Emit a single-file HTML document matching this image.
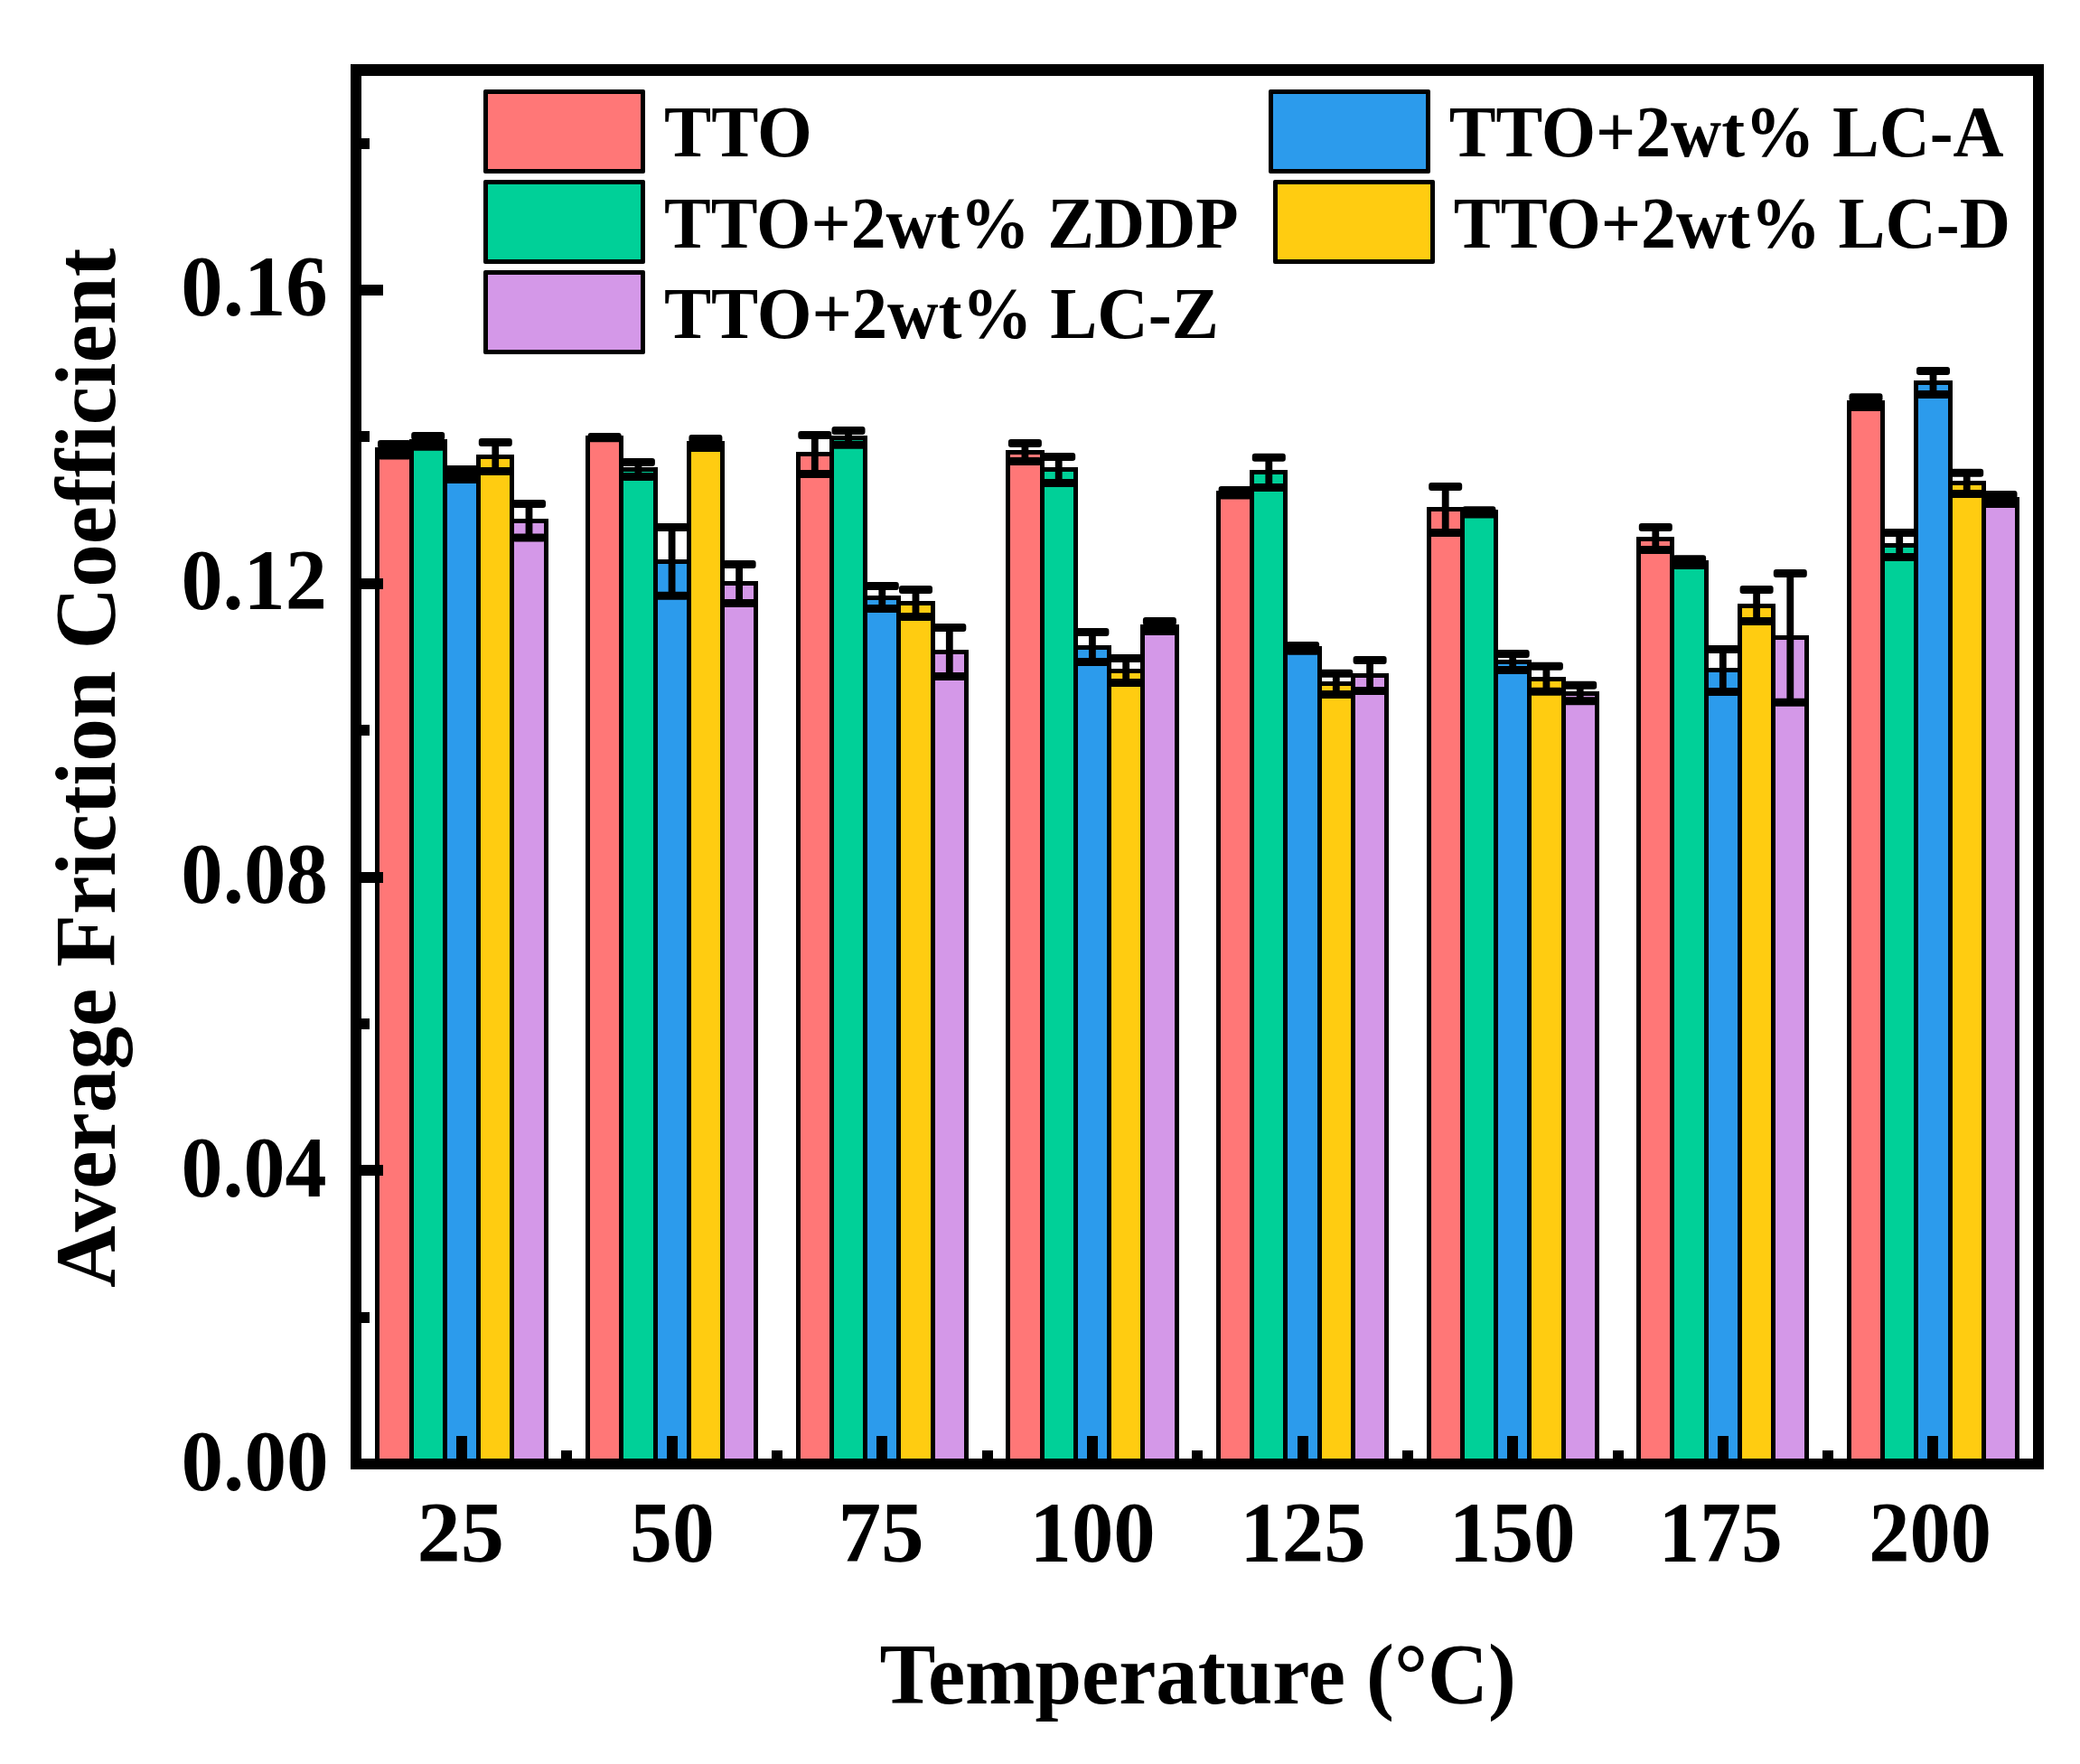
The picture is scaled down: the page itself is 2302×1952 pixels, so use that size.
<!DOCTYPE html>
<html><head><meta charset="utf-8"><title>Average Friction Coefficient vs Temperature</title>
<style>html,body{margin:0;padding:0;background:#fff}svg{display:block}</style></head>
<body><svg width="2302" height="1952" viewBox="0 0 2302 1952">
<rect x="0" y="0" width="2302" height="1952" fill="#fff"/>
<g font-family="Liberation Serif, 'Times New Roman', serif" font-weight="bold" fill="#000">
<rect x="415" y="495" width="43" height="1125" fill="#000"/>
<rect x="420" y="500" width="33" height="1120" fill="#FF7777"/>
<rect x="453" y="486" width="42" height="1134" fill="#000"/>
<rect x="458" y="491" width="32" height="1129" fill="#00D098"/>
<rect x="490" y="523" width="42" height="1097" fill="#000"/>
<rect x="495" y="528" width="32" height="1092" fill="#2C9BEC"/>
<rect x="527" y="503" width="42" height="1117" fill="#000"/>
<rect x="532" y="508" width="32" height="1112" fill="#FFCC11"/>
<rect x="564" y="574" width="43" height="1046" fill="#000"/>
<rect x="569" y="579" width="33" height="1041" fill="#D498E8"/>
<rect x="648" y="482" width="42" height="1138" fill="#000"/>
<rect x="653" y="487" width="32" height="1133" fill="#FF7777"/>
<rect x="685" y="517" width="43" height="1103" fill="#000"/>
<rect x="690" y="522" width="33" height="1098" fill="#00D098"/>
<rect x="723" y="619" width="42" height="1001" fill="#000"/>
<rect x="728" y="624" width="32" height="996" fill="#2C9BEC"/>
<rect x="760" y="488" width="42" height="1132" fill="#000"/>
<rect x="765" y="493" width="32" height="1127" fill="#FFCC11"/>
<rect x="797" y="643" width="42" height="977" fill="#000"/>
<rect x="802" y="648" width="32" height="972" fill="#D498E8"/>
<rect x="881" y="500" width="42" height="1120" fill="#000"/>
<rect x="886" y="505" width="32" height="1115" fill="#FF7777"/>
<rect x="918" y="482" width="42" height="1138" fill="#000"/>
<rect x="923" y="487" width="32" height="1133" fill="#00D098"/>
<rect x="955" y="659" width="42" height="961" fill="#000"/>
<rect x="960" y="664" width="32" height="956" fill="#2C9BEC"/>
<rect x="992" y="665" width="43" height="955" fill="#000"/>
<rect x="997" y="670" width="33" height="950" fill="#FFCC11"/>
<rect x="1030" y="719" width="42" height="901" fill="#000"/>
<rect x="1035" y="724" width="32" height="896" fill="#D498E8"/>
<rect x="1113" y="498" width="43" height="1122" fill="#000"/>
<rect x="1118" y="503" width="33" height="1117" fill="#FF7777"/>
<rect x="1151" y="517" width="42" height="1103" fill="#000"/>
<rect x="1156" y="522" width="32" height="1098" fill="#00D098"/>
<rect x="1188" y="714" width="42" height="906" fill="#000"/>
<rect x="1193" y="719" width="32" height="901" fill="#2C9BEC"/>
<rect x="1225" y="740" width="42" height="880" fill="#000"/>
<rect x="1230" y="745" width="32" height="875" fill="#FFCC11"/>
<rect x="1262" y="691" width="43" height="929" fill="#000"/>
<rect x="1267" y="696" width="33" height="924" fill="#D498E8"/>
<rect x="1346" y="543" width="42" height="1077" fill="#000"/>
<rect x="1351" y="548" width="32" height="1072" fill="#FF7777"/>
<rect x="1383" y="520" width="42" height="1100" fill="#000"/>
<rect x="1388" y="525" width="32" height="1095" fill="#00D098"/>
<rect x="1420" y="715" width="43" height="905" fill="#000"/>
<rect x="1425" y="720" width="33" height="900" fill="#2C9BEC"/>
<rect x="1458" y="754" width="42" height="866" fill="#000"/>
<rect x="1463" y="759" width="32" height="861" fill="#FFCC11"/>
<rect x="1495" y="745" width="42" height="875" fill="#000"/>
<rect x="1500" y="750" width="32" height="870" fill="#D498E8"/>
<rect x="1579" y="561" width="42" height="1059" fill="#000"/>
<rect x="1584" y="566" width="32" height="1054" fill="#FF7777"/>
<rect x="1616" y="564" width="42" height="1056" fill="#000"/>
<rect x="1621" y="569" width="32" height="1051" fill="#00D098"/>
<rect x="1653" y="730" width="42" height="890" fill="#000"/>
<rect x="1658" y="735" width="32" height="885" fill="#2C9BEC"/>
<rect x="1690" y="749" width="43" height="871" fill="#000"/>
<rect x="1695" y="754" width="33" height="866" fill="#FFCC11"/>
<rect x="1728" y="765" width="42" height="855" fill="#000"/>
<rect x="1733" y="770" width="32" height="850" fill="#D498E8"/>
<rect x="1811" y="594" width="42" height="1026" fill="#000"/>
<rect x="1816" y="599" width="32" height="1021" fill="#FF7777"/>
<rect x="1848" y="620" width="43" height="1000" fill="#000"/>
<rect x="1853" y="625" width="33" height="995" fill="#00D098"/>
<rect x="1886" y="739" width="42" height="881" fill="#000"/>
<rect x="1891" y="744" width="32" height="876" fill="#2C9BEC"/>
<rect x="1923" y="668" width="42" height="952" fill="#000"/>
<rect x="1928" y="673" width="32" height="947" fill="#FFCC11"/>
<rect x="1960" y="703" width="42" height="917" fill="#000"/>
<rect x="1965" y="708" width="32" height="912" fill="#D498E8"/>
<rect x="2044" y="443" width="42" height="1177" fill="#000"/>
<rect x="2049" y="448" width="32" height="1172" fill="#FF7777"/>
<rect x="2081" y="601" width="42" height="1019" fill="#000"/>
<rect x="2086" y="606" width="32" height="1014" fill="#00D098"/>
<rect x="2118" y="421" width="43" height="1199" fill="#000"/>
<rect x="2123" y="426" width="33" height="1194" fill="#2C9BEC"/>
<rect x="2156" y="532" width="42" height="1088" fill="#000"/>
<rect x="2161" y="537" width="32" height="1083" fill="#FFCC11"/>
<rect x="2193" y="550" width="42" height="1070" fill="#000"/>
<rect x="2198" y="555" width="32" height="1065" fill="#D498E8"/>
<rect x="432.6" y="491.4" width="7.8" height="12.7" fill="#000"/>
<rect x="418" y="486.9" width="37" height="9" fill="#000" rx="3"/>
<rect x="418" y="499.6" width="37" height="9" fill="#000" rx="3"/>
<rect x="469.9" y="482.4" width="7.7" height="11.9" fill="#000"/>
<rect x="455.2" y="477.9" width="37" height="9" fill="#000" rx="3"/>
<rect x="455.2" y="489.8" width="37" height="9" fill="#000" rx="3"/>
<rect x="507.1" y="519.5" width="7.8" height="11" fill="#000"/>
<rect x="492.5" y="515" width="37" height="9" fill="#000" rx="3"/>
<rect x="492.5" y="526" width="37" height="9" fill="#000" rx="3"/>
<rect x="544.4" y="489.4" width="7.7" height="32.1" fill="#000"/>
<rect x="529.8" y="484.9" width="37" height="9" fill="#000" rx="3"/>
<rect x="529.8" y="517" width="37" height="9" fill="#000" rx="3"/>
<rect x="581.6" y="557.4" width="7.8" height="37.7" fill="#000"/>
<rect x="567" y="552.9" width="37" height="9" fill="#000" rx="3"/>
<rect x="567" y="590.6" width="37" height="9" fill="#000" rx="3"/>
<rect x="665.2" y="483.6" width="7.8" height="1.2" fill="#000"/>
<rect x="650.6" y="479.1" width="37" height="9" fill="#000" rx="3"/>
<rect x="650.6" y="480.3" width="37" height="9" fill="#000" rx="3"/>
<rect x="702.5" y="511.4" width="7.8" height="16" fill="#000"/>
<rect x="687.9" y="506.9" width="37" height="9" fill="#000" rx="3"/>
<rect x="687.9" y="522.9" width="37" height="9" fill="#000" rx="3"/>
<rect x="739.7" y="583.5" width="7.8" height="75.7" fill="#000"/>
<rect x="725.1" y="579" width="37" height="9" fill="#000" rx="3"/>
<rect x="725.1" y="654.7" width="37" height="9" fill="#000" rx="3"/>
<rect x="777" y="485.4" width="7.8" height="10" fill="#000"/>
<rect x="762.4" y="480.9" width="37" height="9" fill="#000" rx="3"/>
<rect x="762.4" y="490.9" width="37" height="9" fill="#000" rx="3"/>
<rect x="814.2" y="624.4" width="7.8" height="43.1" fill="#000"/>
<rect x="799.6" y="619.9" width="37" height="9" fill="#000" rx="3"/>
<rect x="799.6" y="663" width="37" height="9" fill="#000" rx="3"/>
<rect x="897.9" y="481.4" width="7.8" height="43" fill="#000"/>
<rect x="883.3" y="476.9" width="37" height="9" fill="#000" rx="3"/>
<rect x="883.3" y="519.9" width="37" height="9" fill="#000" rx="3"/>
<rect x="935.1" y="476.6" width="7.8" height="15.7" fill="#000"/>
<rect x="920.5" y="472.1" width="37" height="9" fill="#000" rx="3"/>
<rect x="920.5" y="487.8" width="37" height="9" fill="#000" rx="3"/>
<rect x="972.4" y="648.5" width="7.8" height="25.1" fill="#000"/>
<rect x="957.8" y="644" width="37" height="9" fill="#000" rx="3"/>
<rect x="957.8" y="669.1" width="37" height="9" fill="#000" rx="3"/>
<rect x="1009.6" y="652.4" width="7.8" height="30.2" fill="#000"/>
<rect x="995" y="647.9" width="37" height="9" fill="#000" rx="3"/>
<rect x="995" y="678.1" width="37" height="9" fill="#000" rx="3"/>
<rect x="1046.9" y="694.4" width="7.8" height="54.1" fill="#000"/>
<rect x="1032.3" y="689.9" width="37" height="9" fill="#000" rx="3"/>
<rect x="1032.3" y="744" width="37" height="9" fill="#000" rx="3"/>
<rect x="1130.5" y="490.4" width="7.8" height="20.1" fill="#000"/>
<rect x="1115.9" y="485.9" width="37" height="9" fill="#000" rx="3"/>
<rect x="1115.9" y="506" width="37" height="9" fill="#000" rx="3"/>
<rect x="1167.8" y="505.5" width="7.8" height="28.9" fill="#000"/>
<rect x="1153.2" y="501" width="37" height="9" fill="#000" rx="3"/>
<rect x="1153.2" y="529.9" width="37" height="9" fill="#000" rx="3"/>
<rect x="1205" y="699.4" width="7.8" height="33.2" fill="#000"/>
<rect x="1190.4" y="694.9" width="37" height="9" fill="#000" rx="3"/>
<rect x="1190.4" y="728.1" width="37" height="9" fill="#000" rx="3"/>
<rect x="1242.3" y="728.5" width="7.8" height="27" fill="#000"/>
<rect x="1227.7" y="724" width="37" height="9" fill="#000" rx="3"/>
<rect x="1227.7" y="751" width="37" height="9" fill="#000" rx="3"/>
<rect x="1279.5" y="687.5" width="7.8" height="11" fill="#000"/>
<rect x="1264.9" y="683" width="37" height="9" fill="#000" rx="3"/>
<rect x="1264.9" y="694" width="37" height="9" fill="#000" rx="3"/>
<rect x="1363.2" y="542.6" width="7.8" height="5.5" fill="#000"/>
<rect x="1348.6" y="538.1" width="37" height="9" fill="#000" rx="3"/>
<rect x="1348.6" y="543.6" width="37" height="9" fill="#000" rx="3"/>
<rect x="1400.4" y="506.3" width="7.8" height="33.3" fill="#000"/>
<rect x="1385.8" y="501.8" width="37" height="9" fill="#000" rx="3"/>
<rect x="1385.8" y="535.1" width="37" height="9" fill="#000" rx="3"/>
<rect x="1437.7" y="714.4" width="7.8" height="5.8" fill="#000"/>
<rect x="1423.1" y="709.9" width="37" height="9" fill="#000" rx="3"/>
<rect x="1423.1" y="715.7" width="37" height="9" fill="#000" rx="3"/>
<rect x="1474.9" y="745.3" width="7.8" height="23.3" fill="#000"/>
<rect x="1460.3" y="740.8" width="37" height="9" fill="#000" rx="3"/>
<rect x="1460.3" y="764.1" width="37" height="9" fill="#000" rx="3"/>
<rect x="1512.2" y="730.4" width="7.8" height="34" fill="#000"/>
<rect x="1497.6" y="725.9" width="37" height="9" fill="#000" rx="3"/>
<rect x="1497.6" y="759.9" width="37" height="9" fill="#000" rx="3"/>
<rect x="1595.8" y="538.4" width="7.8" height="51" fill="#000"/>
<rect x="1581.2" y="533.9" width="37" height="9" fill="#000" rx="3"/>
<rect x="1581.2" y="584.9" width="37" height="9" fill="#000" rx="3"/>
<rect x="1633" y="564.7" width="7.8" height="4.4" fill="#000"/>
<rect x="1618.4" y="560.2" width="37" height="9" fill="#000" rx="3"/>
<rect x="1618.4" y="564.6" width="37" height="9" fill="#000" rx="3"/>
<rect x="1670.3" y="723.5" width="7.8" height="18" fill="#000"/>
<rect x="1655.7" y="719" width="37" height="9" fill="#000" rx="3"/>
<rect x="1655.7" y="737" width="37" height="9" fill="#000" rx="3"/>
<rect x="1707.5" y="737.3" width="7.8" height="27.9" fill="#000"/>
<rect x="1692.9" y="732.8" width="37" height="9" fill="#000" rx="3"/>
<rect x="1692.9" y="760.7" width="37" height="9" fill="#000" rx="3"/>
<rect x="1744.8" y="758.3" width="7.8" height="17.5" fill="#000"/>
<rect x="1730.2" y="753.8" width="37" height="9" fill="#000" rx="3"/>
<rect x="1730.2" y="771.3" width="37" height="9" fill="#000" rx="3"/>
<rect x="1828.4" y="583.5" width="7.8" height="25.1" fill="#000"/>
<rect x="1813.8" y="579" width="37" height="9" fill="#000" rx="3"/>
<rect x="1813.8" y="604.1" width="37" height="9" fill="#000" rx="3"/>
<rect x="1865.7" y="618.8" width="7.8" height="6.7" fill="#000"/>
<rect x="1851.1" y="614.3" width="37" height="9" fill="#000" rx="3"/>
<rect x="1851.1" y="621" width="37" height="9" fill="#000" rx="3"/>
<rect x="1902.9" y="718.4" width="7.8" height="47" fill="#000"/>
<rect x="1888.3" y="713.9" width="37" height="9" fill="#000" rx="3"/>
<rect x="1888.3" y="760.9" width="37" height="9" fill="#000" rx="3"/>
<rect x="1940.2" y="652.5" width="7.8" height="35" fill="#000"/>
<rect x="1925.6" y="648" width="37" height="9" fill="#000" rx="3"/>
<rect x="1925.6" y="683" width="37" height="9" fill="#000" rx="3"/>
<rect x="1977.4" y="634.5" width="7.8" height="142.8" fill="#000"/>
<rect x="1962.8" y="630" width="37" height="9" fill="#000" rx="3"/>
<rect x="1962.8" y="772.8" width="37" height="9" fill="#000" rx="3"/>
<rect x="2061.1" y="439.7" width="7.8" height="10.8" fill="#000"/>
<rect x="2046.5" y="435.2" width="37" height="9" fill="#000" rx="3"/>
<rect x="2046.5" y="446" width="37" height="9" fill="#000" rx="3"/>
<rect x="2098.3" y="589.5" width="7.8" height="27" fill="#000"/>
<rect x="2083.7" y="585" width="37" height="9" fill="#000" rx="3"/>
<rect x="2083.7" y="612" width="37" height="9" fill="#000" rx="3"/>
<rect x="2135.6" y="410.4" width="7.8" height="26" fill="#000"/>
<rect x="2121" y="405.9" width="37" height="9" fill="#000" rx="3"/>
<rect x="2121" y="431.9" width="37" height="9" fill="#000" rx="3"/>
<rect x="2172.8" y="523.3" width="7.8" height="23.1" fill="#000"/>
<rect x="2158.2" y="518.8" width="37" height="9" fill="#000" rx="3"/>
<rect x="2158.2" y="541.9" width="37" height="9" fill="#000" rx="3"/>
<rect x="2210.1" y="547.5" width="7.8" height="9.9" fill="#000"/>
<rect x="2195.5" y="543" width="37" height="9" fill="#000" rx="3"/>
<rect x="2195.5" y="552.9" width="37" height="9" fill="#000" rx="3"/>
<rect x="388" y="71" width="1874" height="13" fill="#000"/>
<rect x="388" y="1614" width="1874" height="12" fill="#000"/>
<rect x="388" y="71" width="12" height="1555" fill="#000"/>
<rect x="2250" y="71" width="12" height="1555" fill="#000"/>
<rect x="400" y="1452" width="9" height="12" fill="#000"/>
<rect x="400" y="1289" width="24" height="12" fill="#000"/>
<rect x="400" y="1127" width="9" height="12" fill="#000"/>
<rect x="400" y="965" width="24" height="12" fill="#000"/>
<rect x="400" y="802" width="9" height="12" fill="#000"/>
<rect x="400" y="640" width="24" height="12" fill="#000"/>
<rect x="400" y="477" width="9" height="12" fill="#000"/>
<rect x="400" y="315" width="24" height="12" fill="#000"/>
<rect x="400" y="153" width="9" height="12" fill="#000"/>
<rect x="505" y="1589" width="12" height="25" fill="#000"/>
<rect x="621" y="1605" width="12" height="9" fill="#000"/>
<rect x="738" y="1589" width="12" height="25" fill="#000"/>
<rect x="854" y="1605" width="12" height="9" fill="#000"/>
<rect x="970" y="1589" width="12" height="25" fill="#000"/>
<rect x="1087" y="1605" width="12" height="9" fill="#000"/>
<rect x="1203" y="1589" width="12" height="25" fill="#000"/>
<rect x="1319" y="1605" width="12" height="9" fill="#000"/>
<rect x="1436" y="1589" width="12" height="25" fill="#000"/>
<rect x="1552" y="1605" width="12" height="9" fill="#000"/>
<rect x="1668" y="1589" width="12" height="25" fill="#000"/>
<rect x="1785" y="1605" width="12" height="9" fill="#000"/>
<rect x="1901" y="1589" width="12" height="25" fill="#000"/>
<rect x="2017" y="1605" width="12" height="9" fill="#000"/>
<rect x="2133" y="1589" width="12" height="25" fill="#000"/>
<rect x="535" y="99" width="179" height="93" fill="#000" rx="2"/>
<rect x="540" y="104" width="169" height="83" fill="#FF7777"/>
<rect x="535" y="199" width="179" height="93" fill="#000" rx="2"/>
<rect x="540" y="204" width="169" height="83" fill="#00D098"/>
<rect x="535" y="299" width="179" height="93" fill="#000" rx="2"/>
<rect x="540" y="304" width="169" height="83" fill="#D498E8"/>
<rect x="1404" y="99" width="179" height="93" fill="#000" rx="2"/>
<rect x="1409" y="104" width="169" height="83" fill="#2C9BEC"/>
<rect x="1409" y="199" width="179" height="93" fill="#000" rx="2"/>
<rect x="1414" y="204" width="169" height="83" fill="#FFCC11"/>
<text x="734.99" y="172.7" font-size="80.5" textLength="163.80" lengthAdjust="spacingAndGlyphs">TTO</text>
<text x="734.99" y="273.8" font-size="80.5" textLength="635.60" lengthAdjust="spacingAndGlyphs">TTO+2wt% ZDDP</text>
<text x="734.98" y="373.8" font-size="80.5" textLength="613.88" lengthAdjust="spacingAndGlyphs">TTO+2wt% LC-Z</text>
<text x="1603.69" y="172.95" font-size="80.5" textLength="613.88" lengthAdjust="spacingAndGlyphs">TTO+2wt% LC-A</text>
<text x="1608.69" y="273.8" font-size="80.5" textLength="616.21" lengthAdjust="spacingAndGlyphs">TTO+2wt% LC-D</text>
<text x="200.45" y="1648.7" font-size="96" textLength="163.20" lengthAdjust="spacingAndGlyphs">0.00</text>
<text x="200.39" y="1323.9" font-size="96" textLength="161.11" lengthAdjust="spacingAndGlyphs">0.04</text>
<text x="200.36" y="999" font-size="96" textLength="162.52" lengthAdjust="spacingAndGlyphs">0.08</text>
<text x="200.39" y="674.2" font-size="96" textLength="161.48" lengthAdjust="spacingAndGlyphs">0.12</text>
<text x="200.26" y="349.4" font-size="96" textLength="162.56" lengthAdjust="spacingAndGlyphs">0.16</text>
<text x="461.55" y="1727.7" font-size="96" textLength="96.49" lengthAdjust="spacingAndGlyphs">25</text>
<text x="697.05" y="1727.7" font-size="96" textLength="93.72" lengthAdjust="spacingAndGlyphs">50</text>
<text x="927.46" y="1727.7" font-size="96" textLength="95.23" lengthAdjust="spacingAndGlyphs">75</text>
<text x="1139.46" y="1727.7" font-size="96" textLength="139.27" lengthAdjust="spacingAndGlyphs">100</text>
<text x="1372.36" y="1727.7" font-size="96" textLength="139.34" lengthAdjust="spacingAndGlyphs">125</text>
<text x="1603.83" y="1727.7" font-size="96" textLength="139.92" lengthAdjust="spacingAndGlyphs">150</text>
<text x="1835.47" y="1727.7" font-size="96" textLength="137.39" lengthAdjust="spacingAndGlyphs">175</text>
<text x="2068.30" y="1727.7" font-size="96" textLength="135.75" lengthAdjust="spacingAndGlyphs">200</text>
<text x="973.57" y="1885" font-size="96" textLength="704.45" lengthAdjust="spacingAndGlyphs">Temperature (°C)</text>
<text transform="translate(126.80,1424.92) rotate(-90)" x="0" y="0" font-size="95.5" textLength="1150.34" lengthAdjust="spacingAndGlyphs">Average Friction Coefficient</text>
</g></svg></body></html>
